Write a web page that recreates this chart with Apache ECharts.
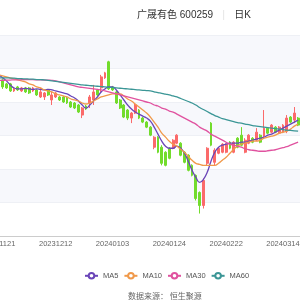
<!DOCTYPE html>
<html>
<head>
<meta charset="utf-8">
<script src="https://cdn.jsdelivr.net/npm/echarts@6/dist/echarts.min.js"></script>
<style>html,body{margin:0;padding:0;background:#fff}#c{width:300px;height:300px}</style>
</head>
<body>
<div id="c"></div>
<script>
var dates = ['20231121','20231122','20231123','20231124','20231127','20231128','20231129','20231130','20231201','20231204','20231205','20231206','20231207','20231208','20231211','20231212','20231213','20231214','20231215','20231218','20231219','20231220','20231221','20231222','20231225','20231226','20231227','20231228','20231229','20240102','20240103','20240104','20240105','20240108','20240109','20240110','20240111','20240112','20240115','20240116','20240117','20240118','20240119','20240122','20240123','20240124','20240125','20240126','20240129','20240130','20240131','20240201','20240202','20240205','20240206','20240207','20240208','20240219','20240220','20240221','20240222','20240223','20240226','20240227','20240228','20240229','20240301','20240304','20240305','20240306','20240307','20240308','20240311','20240312','20240313','20240314','20240315','20240318','20240319','20240320'];

// [open, close, low, high]
var kline = [
[31.08,31.44,31.02,31.5],[31.32,30.9,30.78,31.38],[31.08,30.84,30.78,31.14],[31.08,30.66,30.6,31.14],[30.66,30.78,30.6,30.84],
[30.9,30.72,30.66,30.96],[30.66,30.84,30.6,30.9],[30.84,30.6,30.54,30.9],[30.84,30.54,30.48,30.9],[30.66,30.84,30.6,30.9],
[30.72,30.42,30.36,30.78],[30.3,30.6,30.24,30.84],[30.3,30.54,30.12,30.6],[30.72,30.42,30.36,30.78],[30.12,30.42,29.82,30.6],
[30.3,30.54,30.24,30.6],[30.3,30.12,30.06,30.36],[30.3,30.0,29.94,30.36],[30.24,29.94,29.88,30.3],[30.0,29.7,29.64,30.06],
[29.94,29.64,29.58,30.0],[29.82,29.4,29.34,29.88],[29.22,29.64,29.04,29.7],[29.76,29.58,29.52,29.82],[29.94,30.3,29.64,30.42],
[30.12,30.6,29.82,31.02],[30.72,30.42,30.36,30.78],[30.84,31.5,30.6,31.62],[31.44,31.74,31.38,31.8],[32.4,30.78,30.72,32.46],
[30.9,30.72,30.66,30.96],[30.6,29.94,29.88,30.66],[30.12,29.64,29.58,30.18],[29.82,29.1,29.04,29.88],[29.52,29.04,28.92,29.58],
[29.04,29.34,28.74,29.4],[29.34,29.82,29.28,29.88],[29.52,29.04,28.98,29.58],[29.04,28.8,28.74,29.1],[28.8,28.5,28.44,28.86],
[28.5,28.02,27.96,28.56],[27.3,27.9,27.18,27.96],[27.9,27.0,26.94,27.96],[27.3,26.34,26.22,27.42],[27.0,26.22,26.16,27.06],
[27.24,26.64,26.58,27.3],[27.24,27.72,27.18,27.78],[27.54,28.02,27.48,28.08],[27.54,26.82,26.76,27.6],[27.0,26.4,26.34,27.06],
[26.82,25.92,25.86,26.88],[26.22,25.62,25.56,26.28],[25.62,24.24,24.12,25.68],[24.6,23.82,23.34,24.66],[23.82,25.32,23.64,25.44],
[26.34,27.24,26.22,27.3],[28.74,27.42,27.36,28.8],[26.4,27.12,26.22,27.24],[26.94,27.24,26.88,27.3],[27.0,27.48,26.94,27.54],
[27.0,27.48,26.94,27.54],[27.6,27.24,27.18,27.66],[27.0,27.6,26.94,27.66],[27.84,27.3,27.24,27.9],[28.02,27.42,27.36,28.5],
[27.0,27.72,26.94,27.84],[27.54,28.02,27.48,28.08],[27.84,27.6,27.54,27.9],[27.72,28.2,27.66,28.44],[28.02,27.6,27.54,28.08],
[27.96,28.44,27.84,29.52],[28.44,28.14,28.08,28.5],[28.2,28.62,28.14,28.68],[28.5,28.2,28.14,28.56],[28.14,28.5,28.08,28.56],
[28.2,28.62,28.14,28.68],[28.26,29.04,28.14,29.22],[29.1,28.8,28.74,29.16],[28.92,29.34,28.74,29.7],[29.04,28.62,28.56,29.1]
];

var ma5 = [31.62,31.44,31.26,31.02,30.84,30.78,30.78,30.81,30.78,30.75,30.78,30.75,30.72,30.75,30.72,30.66,30.6,30.54,30.48,30.36,30.24,30.06,29.82,29.64,29.82,30.06,30.3,30.6,30.78,30.9,30.9,30.72,30.42,30.12,29.82,29.58,29.4,29.28,29.16,29.04,28.86,28.5,28.08,27.66,27.36,27.24,27.24,27.36,27.24,26.94,26.46,25.92,25.5,25.2,25.38,25.8,26.46,27.0,27.3,27.42,27.48,27.54,27.54,27.54,27.6,27.6,27.66,27.72,27.78,27.84,27.9,28.02,28.08,28.2,28.32,28.44,28.56,28.68,28.8,28.92];
var ma10 = [31.62,31.56,31.5,31.44,31.38,31.32,31.26,31.2,31.08,31.02,30.9,30.84,30.72,30.66,30.6,30.48,30.42,30.36,30.3,30.18,30.12,30.06,29.94,29.88,29.94,30.06,30.18,30.3,30.36,30.42,30.48,30.48,30.48,30.36,30.18,30.06,29.88,29.7,29.52,29.34,29.1,28.8,28.5,28.14,27.9,27.66,27.48,27.36,27.18,27.0,26.76,26.52,26.34,26.28,26.22,26.22,26.22,26.22,26.34,26.52,26.7,26.94,27.18,27.36,27.48,27.54,27.6,27.66,27.66,27.72,27.84,27.9,27.96,28.02,28.14,28.2,28.26,28.38,28.56,28.68];
var ma30 = [31.29,31.29,31.3,31.31,31.32,31.32,31.33,31.33,31.33,31.33,31.32,31.32,31.31,31.3,31.29,31.26,31.2,31.14,31.08,31.02,30.96,30.9,30.87,30.84,30.81,30.78,30.75,30.72,30.66,30.6,30.54,30.48,30.42,30.36,30.3,30.24,30.18,30.12,30.06,30.0,29.94,29.82,29.76,29.64,29.58,29.46,29.4,29.28,29.16,29.04,28.92,28.8,28.68,28.5,28.38,28.26,28.08,27.96,27.84,27.72,27.6,27.48,27.42,27.36,27.3,27.21,27.15,27.12,27.09,27.06,27.06,27.09,27.12,27.15,27.21,27.27,27.33,27.42,27.51,27.6];
var ma60 = [31.44,31.44,31.44,31.43,31.42,31.4,31.39,31.38,31.37,31.36,31.34,31.33,31.32,31.29,31.26,31.23,31.2,31.17,31.14,31.11,31.08,31.05,31.02,31.0,30.98,30.96,30.94,30.92,30.9,30.88,30.86,30.84,30.82,30.8,30.78,30.76,30.74,30.72,30.7,30.68,30.66,30.61,30.56,30.52,30.47,30.42,30.36,30.3,30.21,30.12,30.03,29.94,29.82,29.67,29.55,29.43,29.31,29.19,29.1,29.01,28.95,28.89,28.83,28.77,28.74,28.68,28.65,28.59,28.56,28.53,28.5,28.47,28.44,28.41,28.38,28.35,28.32,28.3,28.28,28.26];

var maNames = ['MA5','MA10','MA30','MA60'];
var maColors = ['#6a45b8','#f0994a','#e0529f','#3b9696'];
var maData = [ma5, ma10, ma30, ma60];

var FONT = 'Liberation Sans, Noto Sans CJK SC, sans-serif';
var chart = echarts.init(document.getElementById('c'), null, {renderer:'canvas'});
var series = [{
  type: 'candlestick',
  name: 'K',
  data: kline,
  barWidth: '62%',
  itemStyle: {
    color: '#fb6a6a', color0: '#72dc2c',
    borderColor: '#fb6a6a', borderColor0: '#72dc2c', borderWidth: 1
  }
}];
for (var k = 0; k < maNames.length; k++) {
  series.push({
    type: 'line', name: maNames[k], data: maData[k], smooth: true,
    symbol: 'emptyCircle', symbolSize: 6, showSymbol: false,
    lineStyle: {width: 1.3, color: maColors[k]},
    itemStyle: {color: maColors[k]}
  });
}

chart.setOption({
  backgroundColor: '#fff',
  animation: false,
  title: [{
    text: '{a|广晟有色 600259}{g|}{s|}{g|}{b|日K}',
    left: 132, top: 5,
    textStyle: {
      fontWeight: 'normal',
      rich: {
        a: {fontSize: 10, color: '#333', fontWeight: 'normal', fontFamily: FONT},
        g: {width: 10, height: 10},
        s: {width: 1, height: 10, backgroundColor: '#e6e6e6'},
        b: {fontSize: 10, color: '#333', fontWeight: 'normal', fontFamily: FONT}
      }
    }
  }, {
    text: '数据来源： 恒生聚源',
    left: 123, top: 287,
    textStyle: {fontSize: 8, color: '#666', fontWeight: 'normal', fontFamily: 'Noto Sans CJK SC'}
  }],
  legend: {
    data: maNames,
    left: 79, top: 267,
    itemWidth: 13, itemHeight: 7, itemGap: 5,
    textStyle: {fontSize: 7.5, color: '#555', fontFamily: FONT}
  },
  grid: {left: -3, right: 0, top: 35, bottom: 64, containLabel: false, outerBoundsMode: 'none'},
  xAxis: {
    type: 'category', data: dates, boundaryGap: true,
    axisLine: {lineStyle: {color: '#ccc'}},
    axisTick: {alignWithLabel: true, interval: 14, lineStyle: {color: '#ccc'}, length: 3},
    axisLabel: {interval: 14, fontSize: 7.5, color: '#666', margin: 4, hideOverlap: false, fontFamily: FONT},
    splitLine: {show: false}
  },
  yAxis: {
    type: 'value', min: 22, max: 34, interval: 2,
    axisLabel: {show: false}, axisLine: {show: false}, axisTick: {show: false},
    splitLine: {show: true, lineStyle: {color: '#eef0f5', width: 1}},
    splitArea: {show: true, areaStyle: {color: ['#ffffff', '#f7f8fc']}}
  },
  series: series
});
</script>
</body>
</html>
